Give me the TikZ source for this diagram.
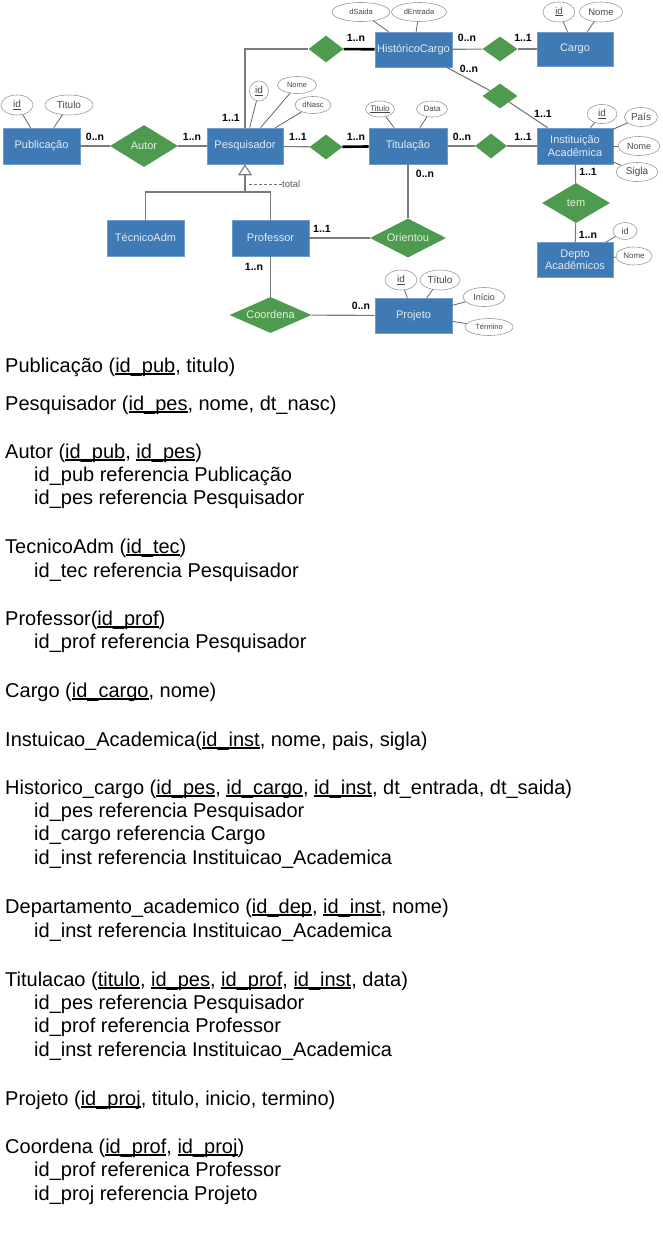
\documentclass[tikz,border=0pt]{standalone}
\usepackage{fontspec}
\setmainfont{Liberation Sans}
\usetikzlibrary{shapes.geometric}
\usetikzlibrary{arrows.meta}
\usetikzlibrary{positioning}

\definecolor{entblue}{HTML}{3F7AB5}
\definecolor{entline}{HTML}{6F9CCB}
\definecolor{relgreen}{HTML}{4E9A4F}
\definecolor{linegray}{HTML}{7A7A7A}
\definecolor{attrline}{HTML}{9A9A9A}

% key attribute: underline that runs through the descenders
\newcommand\pk[1]{\setbox0=\hbox{#1}\rlap{\rule[-0.13em]{\wd0}{0.06em}}\box0}

\tikzset{
  entity/.style 2 args={rectangle, draw=entline, fill=entblue, line width=0.6pt,
    minimum width=#1, minimum height=#2, inner sep=1pt, align=center,
    text=white!85!entblue, font=\fontsize{11}{12.5}\selectfont},
  rel/.style 2 args={diamond, fill=relgreen, inner sep=0pt, minimum width=#1, minimum height=#2},
  reltext/.style={inner sep=0pt, text=white!85!relgreen, font=\fontsize{11}{12}\selectfont},
  attr/.style n args={3}{ellipse, draw=attrline, fill=white, line width=0.6pt, inner sep=0pt,
    minimum width=#1, minimum height=#2, text=black!72, font=\fontsize{#3}{#3}\selectfont},
  card/.style={inner sep=0pt, font=\bfseries\fontsize{10.5}{11}\selectfont},
  link/.style={draw=linegray, line width=1.1pt},
  heavy/.style={draw=black, line width=2.6pt},
  rowtext/.style={anchor=base west, inner sep=0pt, font=\fontsize{20}{23}\selectfont},
}

\begin{document}
\begin{tikzpicture}[x=1pt, y=-1pt]
  \fill[white] (0,0) rectangle (662,1242);
  \useasboundingbox (0,0) rectangle (662,1242);

  % entities
  \node[entity={77pt}{36pt}] (pub) at (41.5,146) {Publicação};
  \node[entity={76pt}{36pt}] (pes) at (245,146) {Pesquisador};
  \node[entity={77pt}{35pt}] (hist) at (413.5,49.5) {HistóricoCargo};
  \node[entity={76pt}{34pt}] (cargo) at (575,49) {Cargo};
  \node[entity={78pt}{36pt}] (tit) at (408,146) {Titulação};
  \node[entity={76pt}{36pt}] (inst) at (575,146) {Instituição\\Acadêmica};
  \node[entity={77pt}{36pt}] (tec) at (145.5,238) {TécnicoAdm};
  \node[entity={77pt}{36pt}] (prof) at (270.5,238) {Professor};
  \node[entity={76pt}{35pt}] (depto) at (575,260) {Depto\\Acadêmicos};
  \node[entity={77pt}{35pt}] (proj) at (413.5,315.5) {Projeto};

  % relationships
  \node[rel={68pt}{42pt}, label={[reltext]center:Autor}] (autor) at (144,146) {};
  \node[rel={35pt}{27pt}] (rhist) at (326,49) {};
  \node[rel={35pt}{25pt}] (rcargo) at (500,49) {};
  \node[rel={35pt}{25pt}] (rinst) at (500,96) {};
  \node[rel={33pt}{25pt}] (rtit) at (326,147) {};
  \node[rel={32pt}{25pt}] (rtitinst) at (491,146) {};
  \node[rel={76pt}{39pt}, label={[reltext]center:Orientou}] (orient) at (408,238) {};
  \node[rel={82pt}{36pt}, label={[reltext]center:Coordena}] (coord) at (270.5,315) {};
  \node[rel={68pt}{40pt}, label={[reltext]center:tem}] (tem) at (576,203) {};

  % attributes
  \node[attr={32pt}{20pt}{10}] (pubid) at (17,105) {\pk{id}};
  \node[attr={48pt}{20pt}{10}] (pubtit) at (69,105) {Titulo};
  \node[attr={19pt}{20pt}{10}] (pesid) at (259,91) {\pk{id}};
  \node[attr={39pt}{17pt}{7.5}] (pesnome) at (297,85) {Nome};
  \node[attr={36pt}{17pt}{7.5}] (pesnasc) at (313,105) {dNasc};
  \node[attr={58pt}{19pt}{7.5}] (histsai) at (361,12) {dSaida};
  \node[attr={55pt}{19pt}{7.5}] (histent) at (419,12) {dEntrada};
  \node[attr={32pt}{20pt}{9.5}] (cargoid) at (559,12) {\pk{id}};
  \node[attr={43pt}{20pt}{9.5}] (cargonome) at (601,12) {Nome};
  \node[attr={29pt}{16pt}{8}] (tittit) at (380,109) {\pk{Titulo}};
  \node[attr={31pt}{16pt}{8}] (titdata) at (432,109) {Data};
  \node[attr={30pt}{19pt}{10}] (instid) at (602,114) {\pk{id}};
  \node[attr={33pt}{19pt}{10}] (instpais) at (641,117) {País};
  \node[attr={42pt}{19pt}{9}] (instnome) at (639,146) {Nome};
  \node[attr={42pt}{19pt}{10}] (instsigla) at (637,172) {Sigla};
  \node[attr={24pt}{17pt}{9}] (deptoid) at (625,231) {id};
  \node[attr={36pt}{18pt}{8}] (deptonome) at (634,256) {Nome};
  \node[attr={32pt}{20pt}{10}] (projid) at (401,280) {\pk{id}};
  \node[attr={40pt}{20pt}{10}] (projtit) at (440,280) {Título};
  \node[attr={42pt}{19pt}{9}] (projini) at (484,297) {Início};
  \node[attr={48pt}{17pt}{7.5}] (projter) at (489,327) {Término};

  % attribute links
  \foreach \a/\e in {pubid/pub, pubtit/pub, pesid/pes, pesnome/pes, pesnasc/pes,
      histsai/hist, histent/hist, cargoid/cargo, cargonome/cargo, tittit/tit, titdata/tit,
      instid/inst, instpais/inst, instnome/inst, instsigla/inst, deptoid/depto,
      deptonome/depto, projid/proj, projtit/proj, projini/proj, projter/proj}
    \draw[draw=black!60, line width=0.8pt] (\a) -- (\e);

  % relationship links
  \draw[link] (pub) -- (autor);
  \draw[link] (autor) -- (pes);
  \draw[link] (pes.north) |- (rhist.west);
  \draw[heavy] (rhist) -- (hist);
  \draw[link] (hist) -- (rcargo);
  \draw[link] (rcargo) -- (cargo);
  \draw[link] (hist) -- (rinst);
  \draw[link] (rinst) -- (inst);
  \draw[link] (pes) -- (rtit);
  \draw[heavy] (rtit) -- (tit);
  \draw[link] (tit) -- (rtitinst);
  \draw[link] (rtitinst) -- (inst);
  \draw[link] (inst) -- (tem);
  \draw[link] (tem) -- (depto);
  \draw[link] (prof) -- (orient);
  \draw[link] (orient) -- (tit);
  \draw[link] (prof) -- (coord);
  \draw[link] (coord) -- (proj);

  % specialization
  \coordinate (gen) at (245,192);
  \draw[link] (tec.north) |- (gen) -| (prof.north);
  \draw[link, -{Triangle[open, width=14pt, length=11pt, fill=white]}] (gen) -- (pes.south);
  \node[anchor=west, inner sep=0pt, text=black!65, font=\fontsize{9.5}{10}\selectfont] (total) at (282,184) {total};
  \draw[black!55, densely dashed, line width=0.7pt] (total.west) -- ++(-34,0);

  % cardinalities
  \node[card] (c1) at (95,137) {0..n};
  \node[card] (c2) at (192,137) {1..n};
  \node[card] (c3) at (231,118) {1..1};
  \node[card] (c4) at (298,137) {1..1};
  \node[card] (c5) at (356,137) {1..n};
  \node[card] (c6) at (356,38) {1..n};
  \node[card] (c7) at (467,38) {0..n};
  \node[card] (c8) at (523,38) {1..1};
  \node[card] (c9) at (469,69) {0..n};
  \node[card] (c10) at (543,114) {1..1};
  \node[card] (c11) at (462,137) {0..n};
  \node[card] (c12) at (523,137) {1..1};
  \node[card] (c13) at (425,174) {0..n};
  \node[card] (c14) at (588,172) {1..1};
  \node[card] (c15) at (588,235) {1..n};
  \node[card] (c16) at (322,229) {1..1};
  \node[card] (c17) at (254,267) {1..n};
  \node[card] (c18) at (361,306) {0..n};

  % relational schema
  \node[rowtext] (rpub) at (5,372) {Publicação (\pk{id\_pub}, titulo)};
  \node[rowtext] (rpes) at (5,410) {Pesquisador (\pk{id\_pes}, nome, dt\_nasc)};
  \node[rowtext] (raut) at (5,458) {Autor (\pk{id\_pub}, \pk{id\_pes})};
  \node[rowtext] (raut1) at (34,481) {id\_pub referencia Publicação};
  \node[rowtext] (raut2) at (34,504) {id\_pes referencia Pesquisador};
  \node[rowtext] (rtec) at (5,553) {TecnicoAdm (\pk{id\_tec})};
  \node[rowtext] (rtec1) at (34,577) {id\_tec referencia Pesquisador};
  \node[rowtext] (rprof) at (5,625) {Professor(\pk{id\_prof})};
  \node[rowtext] (rprof1) at (34,648) {id\_prof referencia Pesquisador};
  \node[rowtext] (rcar) at (5,697) {Cargo (\pk{id\_cargo}, nome)};
  \node[rowtext] (rins) at (5,746) {Instuicao\_Academica(\pk{id\_inst}, nome, pais, sigla)};
  \node[rowtext] (rhis) at (5,794) {Historico\_cargo (\pk{id\_pes}, \pk{id\_cargo}, \pk{id\_inst}, dt\_entrada, dt\_saida)};
  \node[rowtext] (rhis1) at (34,817) {id\_pes referencia Pesquisador};
  \node[rowtext] (rhis2) at (34,840) {id\_cargo referencia Cargo};
  \node[rowtext] (rhis3) at (34,864) {id\_inst referencia Instituicao\_Academica};
  \node[rowtext] (rdep) at (5,913) {Departamento\_academico (\pk{id\_dep}, \pk{id\_inst}, nome)};
  \node[rowtext] (rdep1) at (34,937) {id\_inst referencia Instituicao\_Academica};
  \node[rowtext] (rtitu) at (5,986) {Titulacao (\pk{titulo}, \pk{id\_pes}, \pk{id\_prof}, \pk{id\_inst}, data)};
  \node[rowtext] (rtitu1) at (34,1009) {id\_pes referencia Pesquisador};
  \node[rowtext] (rtitu2) at (34,1032) {id\_prof referencia Professor};
  \node[rowtext] (rtitu3) at (34,1056) {id\_inst referencia Instituicao\_Academica};
  \node[rowtext] (rproj) at (5,1105) {Projeto (\pk{id\_proj}, titulo, inicio, termino)};
  \node[rowtext] (rcoo) at (5,1153) {Coordena (\pk{id\_prof}, \pk{id\_proj})};
  \node[rowtext] (rcoo1) at (34,1176) {id\_prof referenica Professor};
  \node[rowtext] (rcoo2) at (34,1200) {id\_proj referencia Projeto};
\end{tikzpicture}
\end{document}
